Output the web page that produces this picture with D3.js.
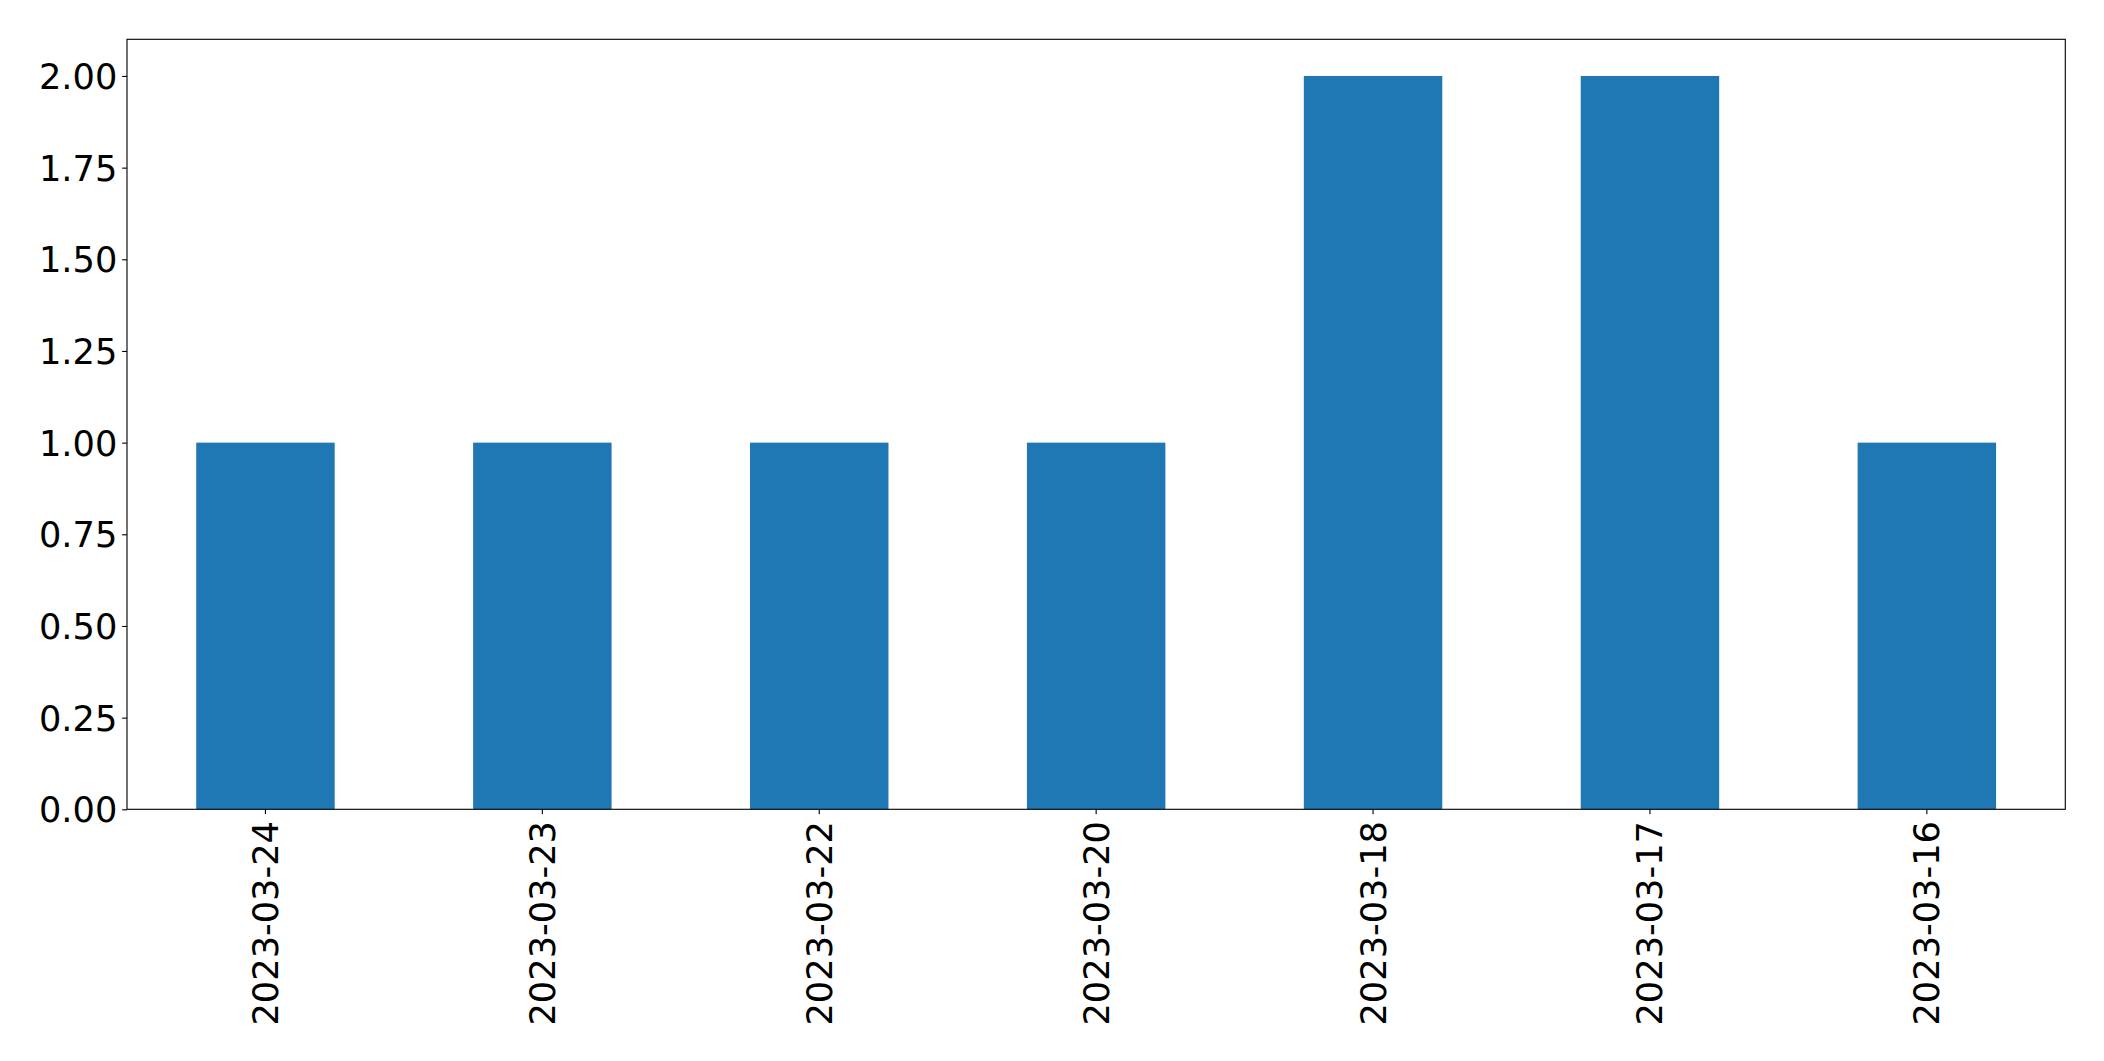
<!DOCTYPE html>
<html>
<head>
<meta charset="utf-8">
<script src="https://cdn.jsdelivr.net/npm/d3@7/dist/d3.min.js"></script>
<style>
  html, body { margin: 0; padding: 0; background: #fff; }
  svg { display: block; }
  text { font-family: "DejaVu Sans", sans-serif; fill: #000; }
</style>
</head>
<body>
<svg id="chart" width="2104" height="1061"></svg>
<script>
const categories = ["2023-03-24", "2023-03-23", "2023-03-22", "2023-03-20", "2023-03-18", "2023-03-17", "2023-03-16"];
const values = [1, 1, 1, 1, 2, 2, 1];
const yTicks = [0, 0.25, 0.5, 0.75, 1.0, 1.25, 1.5, 1.75, 2.0];

const W = 2104, H = 1061;
const m = { left: 127, right: 2065.3, top: 39.3, bottom: 809.3 };
const fs = 35.2;
const tickLen = 4.86, pad = 4.86;

const svg = d3.select("#chart");

const x = d3.scaleBand().domain(categories).range([m.left, m.right]).paddingInner(0.5).paddingOuter(0.25);
const y = d3.scaleLinear().domain([0, 2.1]).range([m.bottom, m.top]);

// bars
svg.append("g").selectAll("rect").data(values).join("rect")
  .attr("x", (d, i) => x(categories[i]))
  .attr("width", x.bandwidth())
  .attr("y", d => y(d))
  .attr("height", d => y(0) - y(d))
  .attr("fill", "#1f77b4");

// y axis
const yAxis = svg.append("g").attr("transform", `translate(${m.left},0)`)
  .call(d3.axisLeft(y).tickValues(yTicks).tickFormat(d3.format(".2f")).tickSizeInner(tickLen).tickSizeOuter(0).tickPadding(pad));
yAxis.select(".domain").remove();
yAxis.attr("font-size", fs).attr("font-family", "DejaVu Sans, sans-serif");
yAxis.selectAll("line").attr("stroke", "#000").attr("stroke-width", 1.11);
yAxis.selectAll("text").attr("font-size", fs).attr("dy", "0.36em").attr("fill", "#000");

// x axis
const xAxis = svg.append("g").attr("transform", `translate(0,${m.bottom})`)
  .call(d3.axisBottom(x).tickSizeInner(tickLen).tickSizeOuter(0).tickPadding(pad));
xAxis.select(".domain").remove();
xAxis.attr("font-size", fs).attr("font-family", "DejaVu Sans, sans-serif");
xAxis.selectAll("line").attr("stroke", "#000").attr("stroke-width", 1.11);
xAxis.selectAll("text")
  .attr("font-size", fs)
  .attr("fill", "#000")
  .attr("text-anchor", "end")
  .attr("dy", null)
  .attr("y", 0)
  .attr("dominant-baseline", "central")
  .attr("transform", `translate(0,${tickLen + pad + 2}) rotate(-90)`);

// frame
svg.append("rect")
  .attr("x", m.left).attr("y", m.top)
  .attr("width", m.right - m.left).attr("height", m.bottom - m.top)
  .attr("fill", "none").attr("stroke", "#000").attr("stroke-width", 1.11);
</script>
</body>
</html>
